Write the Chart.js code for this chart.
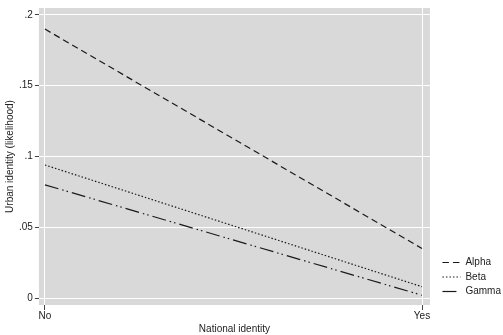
<!DOCTYPE html>
<html>
<head>
<meta charset="utf-8">
<script src="https://cdn.jsdelivr.net/npm/chart.js@4/dist/chart.umd.min.js"></script>
<style>
  html, body { margin: 0; padding: 0; background: #fff; }
  #wrap { width: 503px; height: 335px; }
</style>
</head>
<body>
<div id="wrap"><canvas id="myChart"></canvas></div>
<script>
// categories on the x axis
const categories = ['No', 'Yes'];
// predicted likelihood for each group
const alphaValues = [0.190, 0.035];
const betaValues = [0.094, 0.008];
const gammaValues = [0.080, 0.002];
// y tick values and labels
const yTicks = [0, 0.05, 0.1, 0.15, 0.2];
const yTickLabels = ['0', '.05', '.1', '.15', '.2'];

function toPoints(values){
    return values.map(function(v, i){
        return {x: i, y: v};
    });
}

// gray plot region like the stata scheme
const plotBackground = {
    id: 'plotBackground',
    beforeDraw: function(chart){
        const a = chart.chartArea;
        const ctx = chart.ctx;
        ctx.save();
        ctx.fillStyle = '#d9d9d9';
        ctx.fillRect(a.left, a.top, a.right - a.left, a.bottom - a.top);
        ctx.restore();
    }
};

// nudge the legend a bit away from the plot region
const legendShift = {
    id: 'legendShift',
    afterLayout: function(chart){
        if(chart.legend){
            chart.legend.left += 8;
            chart.legend.right += 8;
            chart.legend.bottom -= 4;
        }
    }
};

const lineColor = '#1a1a1a';
const fontFamily = '"Liberation Sans", Arial, Helvetica, sans-serif';

new Chart(document.getElementById('myChart'), {
    type: 'line',
    data: {
        datasets: [{
            label: 'Alpha',
            data: toPoints(alphaValues),
            borderColor: lineColor,
            backgroundColor: lineColor,
            borderWidth: 1.2,
            borderDash: [6.5, 4],
            pointRadius: 0
        }, {
            label: 'Beta',
            data: toPoints(betaValues),
            borderColor: lineColor,
            backgroundColor: lineColor,
            borderWidth: 1.2,
            borderDash: [1.5, 2],
            pointRadius: 0
        }, {
            label: 'Gamma',
            data: toPoints(gammaValues),
            borderColor: lineColor,
            backgroundColor: lineColor,
            borderWidth: 1.2,
            borderDash: [14, 4, 1.5, 3, 1.5, 4],
            pointRadius: 0
        }]
    },
    options: {
        responsive: true,
        maintainAspectRatio: false,
        animation: false,
        layout: {
            padding: {top: 3, right: 0, bottom: 0, left: 2}
        },
        plugins: {
            tooltip: {enabled: false},
            legend: {
                position: 'right',
                align: 'end',
                fullSize: false,
                labels: {
                    usePointStyle: true,
                    pointStyle: 'line',
                    pointStyleWidth: 18,
                    color: '#222',
                    padding: 4.5,
                    font: {family: fontFamily, size: 10},
                    generateLabels: function(chart){
                        return chart.data.datasets.map(function(ds, i){
                            return {
                                text: ds.label,
                                datasetIndex: i,
                                fillStyle: ds.borderColor,
                                strokeStyle: ds.borderColor,
                                lineWidth: ds.borderWidth,
                                lineDash: ds.borderDash,
                                pointStyle: 'line',
                                hidden: false,
                                fontColor: '#222'
                            };
                        });
                    }
                }
            }
        },
        scales: {
            x: {
                type: 'linear',
                min: -0.016,
                max: 1.021,
                afterBuildTicks: function(axis){
                    axis.ticks = categories.map(function(c, i){ return {value: i}; });
                },
                ticks: {
                    color: '#222',
                    padding: 0,
                    maxRotation: 0,
                    font: {family: fontFamily, size: 10},
                    callback: function(value){ return categories[value]; }
                },
                grid: {
                    color: '#ffffff',
                    lineWidth: 1,
                    tickColor: '#444',
                    tickLength: 5
                },
                border: {display: false},
                title: {
                    display: true,
                    text: 'National identity',
                    color: '#222',
                    padding: {top: 1, bottom: 0},
                    font: {family: fontFamily, size: 10}
                }
            },
            y: {
                type: 'linear',
                min: -0.0049,
                max: 0.2049,
                afterBuildTicks: function(axis){
                    axis.ticks = yTicks.map(function(v){ return {value: v}; });
                },
                ticks: {
                    color: '#222',
                    padding: 2,
                    font: {family: fontFamily, size: 10},
                    callback: function(value){
                        return yTickLabels[yTicks.indexOf(value)];
                    }
                },
                grid: {
                    color: '#ffffff',
                    lineWidth: 1,
                    tickColor: '#444',
                    tickLength: 4
                },
                border: {display: false},
                title: {
                    display: true,
                    text: 'Urban identity (likelihood)',
                    color: '#222',
                    padding: {top: 2, bottom: 1},
                    font: {family: fontFamily, size: 10}
                }
            }
        }
    },
    plugins: [plotBackground, legendShift]
});
</script>
</body>
</html>
